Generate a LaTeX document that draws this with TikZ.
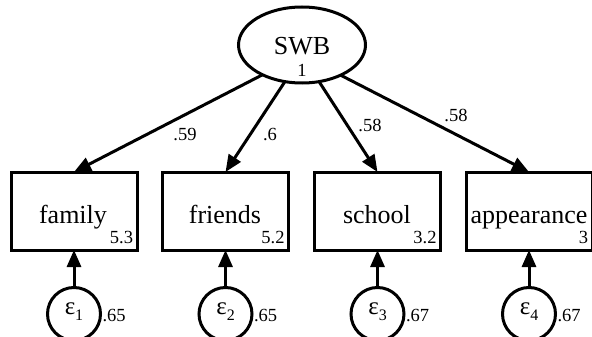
\documentclass[tikz,border=0pt]{standalone}
\usepackage{fontspec}
\setmainfont{Liberation Serif}
\usetikzlibrary{arrows.meta,shapes.geometric}
\begin{document}
\begin{tikzpicture}[x=1pt,y=-1pt,
  every node/.style={inner sep=0pt,outer sep=0pt},
  lat/.style={draw,line width=3pt,ellipse,minimum width=127pt,minimum height=76pt},
  obs/.style={draw,line width=3pt,rectangle,minimum width=126pt,minimum height=78pt},
  err/.style={draw,line width=3pt,circle,minimum size=53pt},
  varname/.style={font=\fontsize{26}{28}\selectfont},
  coef/.style={font=\fontsize{18.5}{20}\selectfont},
  epsl/.style={font=\fontsize{25}{27}\selectfont},
  conn/.style={line width=3pt,-{Triangle[length=17pt,width=14pt]}},
]
\useasboundingbox (0,0) rectangle (592,337);

% latent variable
\node[lat] (swb) at (302,45) {};
\node[varname,anchor=base] (swbname) at (302,55) {SWB};
\node[coef,anchor=base] (swbvar) at (302,77) {1};

% observed indicators
\node[obs] (family) at (74,211) {};
\node[obs] (friends) at (225.5,211) {};
\node[obs] (school) at (377.5,211) {};
\node[obs] (appear) at (529,211) {};

\node[varname,anchor=base] (familyname) at (73,223) {family};
\node[varname,anchor=base] (friendsname) at (225,223) {friends};
\node[varname,anchor=base] (schoolname) at (377,223) {school};
\node[varname,anchor=base] (appearname) at (529,223) {appearance};

\node[coef,anchor=base east] (familyint) at ([xshift=-4pt]family.east |- 0,243) {5.3};
\node[coef,anchor=base east] (friendsint) at ([xshift=-4pt]friends.east |- 0,243) {5.2};
\node[coef,anchor=base east] (schoolint) at ([xshift=-4pt]school.east |- 0,243) {3.2};
\node[coef,anchor=base east] (appearint) at ([xshift=-4pt]appear.east |- 0,243) {3};

% loadings
\draw[conn] (swb.217.5) -- (family.north);
\draw[conn] (swb.245) -- (friends.north);
\draw[conn] (swb.295) -- (school.north);
\draw[conn] (swb.322.5) -- (appear.north);

\node[coef] (l1) at (185,135) {.59};
\node[coef] (l2) at (270,135) {.6};
\node[coef] (l3) at (370,125) {.58};
\node[coef] (l4) at (456,115) {.58};

% error terms
\foreach \n/\x/\v/\i in {e1/74/.65/1, e2/225.5/.65/2, e3/377.5/.67/3, e4/529/.67/4}{
  \node[err] (\n) at (\x,314) {};
  \node[epsl] (\n lab) at ([yshift=2pt]\n) {ε\raisebox{-6pt}{\fontsize{16}{17}\selectfont\i}};
  \node[coef,anchor=west] (\n var) at ([xshift=2pt,yshift=-2pt]\n.east) {\v};
}
\draw[conn] (e1) -- (family);
\draw[conn] (e2) -- (friends);
\draw[conn] (e3) -- (school);
\draw[conn] (e4) -- (appear);
\end{tikzpicture}
\end{document}
